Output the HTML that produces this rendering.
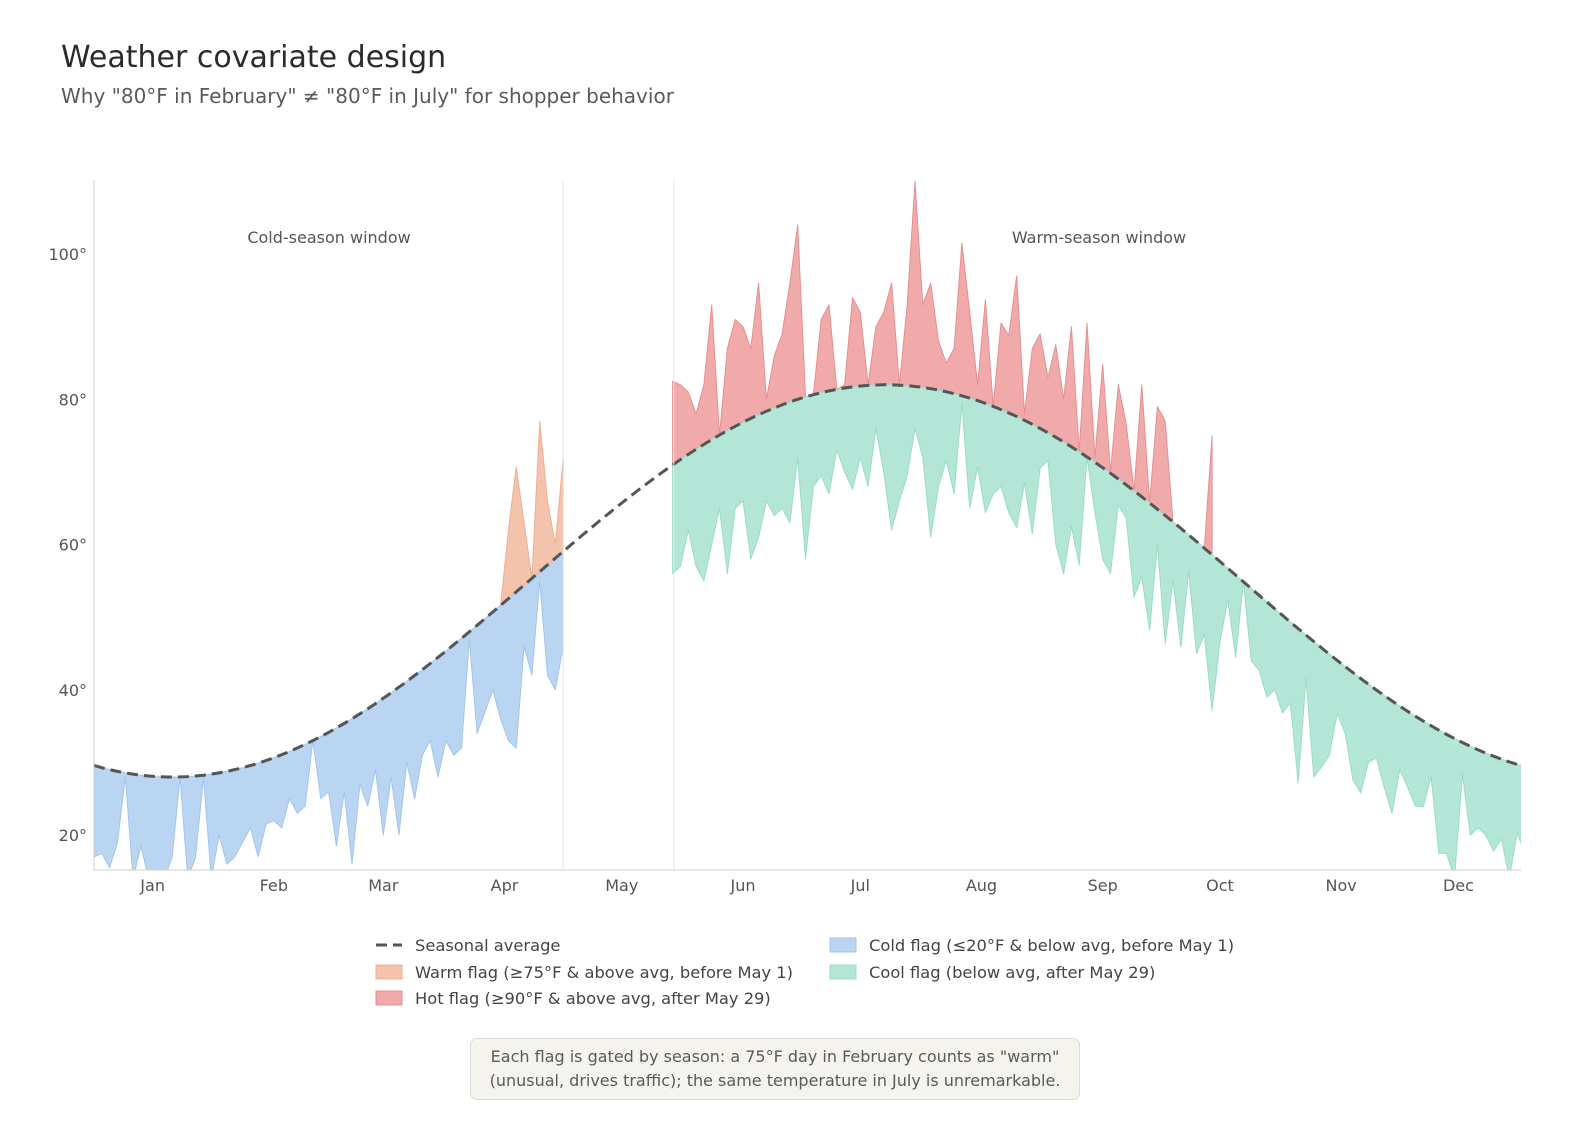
<!DOCTYPE html>
<html><head><meta charset="utf-8">
<style>
html,body{margin:0;padding:0;background:#fff;}
body{width:1577px;height:1145px;position:relative;overflow:hidden;font-family:"Liberation Sans","DejaVu Sans",sans-serif;}
#title{position:absolute;left:61px;top:40px;font-size:30px;color:#2b2b2b;font-family:"DejaVu Sans","Liberation Sans",sans-serif;}
#subtitle{position:absolute;left:61px;top:84px;font-size:20px;color:#5a5a5a;font-family:"DejaVu Sans","Liberation Sans",sans-serif;}
#note{position:absolute;left:470px;top:1038px;width:610px;height:62px;box-sizing:border-box;background:#f4f3ee;border:1px solid #dddbd2;border-radius:7px;text-align:center;font-size:16px;line-height:24px;padding-top:6px;color:#5a5a5a;font-family:"DejaVu Sans","Liberation Sans",sans-serif;}
svg{position:absolute;left:0;top:0;}
svg text{font-family:"DejaVu Sans","Liberation Sans",sans-serif;}
</style></head>
<body>
<div id="title">Weather covariate design</div>
<div id="subtitle">Why "80°F in February" ≠ "80°F in July" for shopper behavior</div>
<svg id="chart" width="1577" height="1145"></svg>
<div id="note">Each flag is gated by season: a 75°F day in February counts as "warm"<br>(unusual, drives traffic); the same temperature in July is unremarkable.</div>
<script>
// ---- data ----
const monthLabels = ["Jan","Feb","Mar","Apr","May","Jun","Jul","Aug","Sep","Oct","Nov","Dec"];
const monthDays = [15,46,74,105,135,166,196,227,258,288,319,349];
const yTicks = [20,40,60,80,100];
const avgMean = 55, avgAmp = 27, avgColdDay = 20;
const coldStart = 0, dayStep = 2;
const coldLows = [17,17.5,15.5,19,28,14,18.5,14,14,14,17,28,14,17,28,14,20,16,17,19,21,17,21.5,22,21,25,23,24,33,25,26,18.5,26,16,27,24,29,20,28,20,30,25,31,33,28,33,31,32,47,34,37,40,36,33,32,46,42,55,42,40,46];
const warmFlagStart = 104;
const warmFlagHighs = [50,62,70.7,63,55,77,66,60,72];
const warmStart = 148;
const warmHighs = [82.5,82,81,78,82,93,75,87,91,90,87,96,80,86,89,96,104,80,80,91,93,81,82,94,92,82,90,92,96,82,93,110,93,96,88,85,87,101.5,92,82,93.7,79,90.5,88.8,97,78,87,89,83,87.5,80,90,72.8,90.5,72,84.8,70,82,76.7,67,82,65,79,77,61,55,52,50,48,75];
const warmLows = [56,57,62,57,55,60,65,56,65,66,58,61,66,64,65,63,72,58,68,69.5,67,73,70,67.6,72,68,76,70,62,66,69.5,76,72,61,68,71.6,67,79.5,65,70.7,64.4,67,68,64.4,62.3,68.5,61.5,70.5,71.6,60,56,62.5,57.2,72.5,64.4,58,56,65.5,63.7,52.8,55.5,48.2,60,46.4,55,45.9,56.4,45,47.6,37.2,46.6,52.4,44.5,55.5,44,42.7,39,40,36.8,38.2,27.2,41.6,28,29.4,31,36.8,34,27.6,25.8,30,30.6,26.6,23,29,26.6,24,23.9,28,17.5,17.5,14,28.4,20,21,20,17.8,19.5,14,20.3,17.5];

// ---- scales ----
const X0=94, X1=1521, Y0=870, Y1=180, TMIN=15.2, TMAX=110.2;
const xs = d => X0 + d*(X1-X0)/365;
const ys = t => Y0 - (t-TMIN)*(Y0-Y1)/(TMAX-TMIN);
const avg = d => avgMean - avgAmp*Math.cos(2*Math.PI*(d-avgColdDay)/365);

const svg = document.getElementById('chart');
const NS = "http://www.w3.org/2000/svg";
function mk(tag, attrs){const e=document.createElementNS(NS,tag);for(const k in attrs)e.setAttribute(k,attrs[k]);return e;}

const defs = mk('defs',{});
const cp = mk('clipPath',{id:'plotclip'});
cp.appendChild(mk('rect',{x:X0,y:Y1,width:X1-X0,height:Y0-Y1}));
defs.appendChild(cp); svg.appendChild(defs);
const plot = mk('g',{'clip-path':'url(#plotclip)'});


svg.appendChild(plot);

[xs(120), xs(148.3)].forEach((x,i)=>{
  const l = mk('line',{x1:x,x2:x,y1:Y1,y2:Y0,stroke:'#e6e6e6','stroke-width':1});
  
  
  svg.appendChild(l);
});

function band(start, vals, above, fill, stroke, name){
  const top=[], bot=[];
  vals.forEach((v,i)=>{
    const d=start+i*dayStep, a=avg(d);
    const val = above ? Math.max(v,a) : Math.min(v,a);
    top.push(xs(d).toFixed(1)+','+ys(val).toFixed(1));
    bot.push(xs(d).toFixed(1)+','+ys(a).toFixed(1));
  });
  const p = mk('polygon',{points: top.concat(bot.reverse()).join(' '), fill:fill, stroke:stroke,'stroke-width':1,'stroke-linejoin':'round'});
  
  
  plot.appendChild(p);
}
band(coldStart, coldLows, false, '#b9d5f2', '#a3c5ea', 'cold-flag-area');
band(warmFlagStart, warmFlagHighs, true, '#f4c3ab', '#eeb096', 'warm-flag-area');
band(warmStart, warmHighs, true, '#f1aaaa', '#e58f92', 'hot-flag-area');
band(warmStart, warmLows, false, '#b3e6d6', '#9bdcc7', 'cool-flag-area');

let pts=[];
for(let d=0; d<=365; d+=1) pts.push(xs(d).toFixed(1)+','+ys(avg(d)).toFixed(1));
const avgLine = mk('polyline',{points:pts.join(' '),fill:'none',stroke:'#555','stroke-width':3,'stroke-dasharray':'11 6'});


plot.appendChild(avgLine);

const ya = mk('line',{x1:X0,x2:X0,y1:Y1,y2:Y0,stroke:'#cfcfcf','stroke-width':1});


svg.appendChild(ya);
const xa = mk('line',{x1:X0,x2:X1,y1:Y0,y2:Y0,stroke:'#cfcfcf','stroke-width':1});


svg.appendChild(xa);

yTicks.forEach(t=>{
  const tx = mk('text',{x:87,y:ys(t)+6,'text-anchor':'end','font-size':16,fill:'#555'});
  tx.textContent = t+'°';
  
  
  svg.appendChild(tx);
});
monthLabels.forEach((m,i)=>{
  const tx = mk('text',{x:xs(monthDays[i]),y:891,'text-anchor':'middle','font-size':16,fill:'#555'});
  tx.textContent = m;
  
  
  svg.appendChild(tx);
});

[[329,'Cold-season window','cold-window-label'],[1099,'Warm-season window','warm-window-label']].forEach(a=>{
  const tx = mk('text',{x:a[0],y:243,'text-anchor':'middle','font-size':16,fill:'#555'});
  tx.textContent = a[1];
  
  
  svg.appendChild(tx);
});

const lg = mk('g',{});


svg.appendChild(lg);
const ll = mk('line',{x1:376,x2:402,y1:945,y2:945,stroke:'#555','stroke-width':3,'stroke-dasharray':'11 6'});


lg.appendChild(ll);
const entries = [
  [376,945,null,'Seasonal average','legend-entry-average'],
  [376,972,['#f4c3ab','#eeb096'],'Warm flag (≥75°F & above avg, before May 1)','legend-entry-warm'],
  [376,998,['#f1aaaa','#e58f92'],'Hot flag (≥90°F & above avg, after May 29)','legend-entry-hot'],
  [830,945,['#b9d5f2','#a3c5ea'],'Cold flag (≤20°F & below avg, before May 1)','legend-entry-cold'],
  [830,972,['#b3e6d6','#9bdcc7'],'Cool flag (below avg, after May 29)','legend-entry-cool']
];
entries.forEach(e=>{
  if(e[2]){
    const r = mk('rect',{x:e[0],y:e[1]-7,width:26,height:14,fill:e[2][0],stroke:e[2][1],'stroke-width':1});
    
    
    lg.appendChild(r);
  }
  const tx = mk('text',{x:e[0]+39,y:e[1]+6,'font-size':16.3,fill:'#444'});
  tx.textContent = e[3];
  
  
  lg.appendChild(tx);
});
</script>
</body></html>
